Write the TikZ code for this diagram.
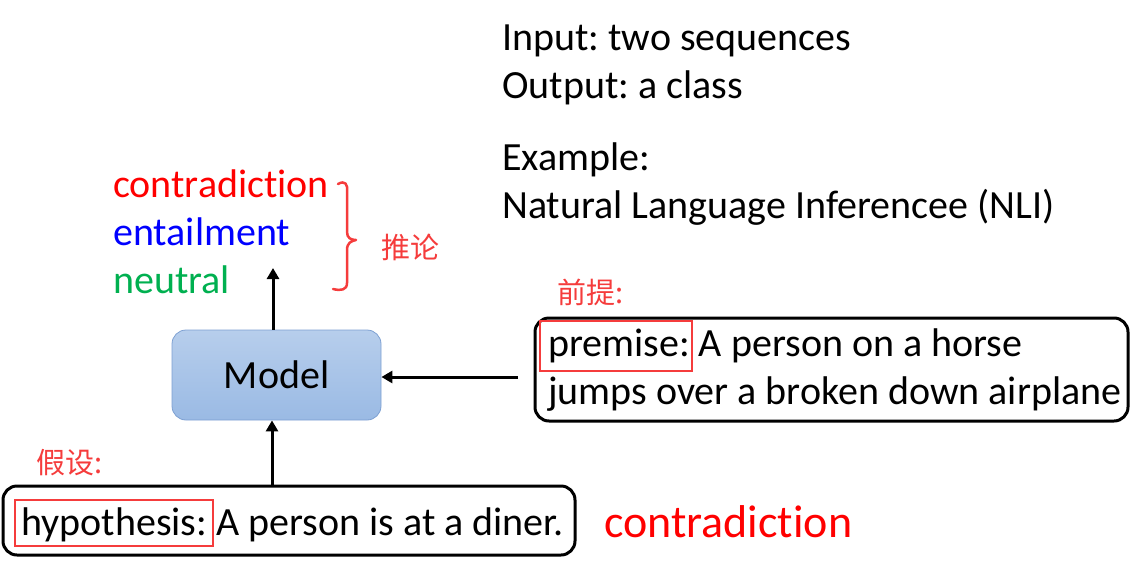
\documentclass[tikz,border=0pt]{standalone}
\usepackage{fontspec}
\setmainfont{Carlito}[RawFeature={-liga;-clig;-dlig}]
\newfontfamily\cjk{Noto Sans CJK SC}
\usetikzlibrary{arrows.meta}
\frenchspacing
\definecolor{cred}{RGB}{255,0,0}
\definecolor{cblue}{RGB}{0,0,255}
\definecolor{cgreen}{RGB}{0,176,80}
\definecolor{nred}{RGB}{245,60,60}
\definecolor{mtop}{RGB}{183,206,236}
\definecolor{mbot}{RGB}{154,186,228}
\definecolor{mdraw}{RGB}{125,160,210}
\tikzset{
  txt/.style={font=\fontsize{40}{48}\selectfont, inner sep=0pt, anchor=base west},
  note/.style={font=\cjk\fontsize{29}{34}\selectfont, text=nred, inner sep=0pt, anchor=base west},
  arr/.style={line width=3pt, -{Triangle[length=11pt,width=12pt]}},
  tbox/.style={draw=black, line width=3pt, rounded corners=14pt},
  rbox/.style={draw=nred, line width=2.2pt},
}
\begin{document}
\begin{tikzpicture}[x=1pt,y=-1pt]
\useasboundingbox (0,0) rectangle (1138,563);
% top-right text
\node[txt] (in) at (502,50) {Input: two sequences};
\node[txt] (out) at (502,98) {Output: a class};
\node[txt] (ex) at (502,170) {Example:};
\node[txt] (nli) at (502,218) {Natural Language Inferencee (NLI)};
% class labels
\node[txt, text=cred] (c1) at (113,197) {contradiction};
\node[txt, text=cblue] (c2) at (113,245) {entailment};
\node[txt, text=cgreen] (c3) at (113,293) {neutral};
% brace
\draw[nred, line width=2.5pt, line cap=round, line join=round]
  (338,184) .. controls (345,180) and (348,184) .. (347,192)
  -- (347,232) .. controls (347,238) and (351,240) .. (356,240)
  .. controls (351,241) and (347,243) .. (347,250)
  -- (347,283) .. controls (347,290) and (341,291) .. (333,289);
\node[note] (tl) at (381,258) {推论};
% model
\node[draw=mdraw, line width=0.8pt, rounded corners=14pt, top color=mtop, bottom color=mbot,
      minimum width=209pt, minimum height=90pt, inner sep=0pt,
      font=\fontsize{40}{48}\selectfont] (model) at (276.5,375) {Model};
\coordinate (outtip) at (273,268);
\draw[arr] (model.north -| outtip) -- (outtip);
% premise
\node[tbox, minimum width=593pt, minimum height=103pt, inner sep=0pt] (pbox) at (831.5,369.5) {};
\node[txt] (p1) at (548,356) {premise: A person on a horse};
\node[txt] (p2) at (548,404) {jumps over a broken down airplane};
\node[rbox, minimum width=152pt, minimum height=50pt, inner sep=0pt] (pr) at (616,346) {};
\node[note] (pn) at (557,303) {前提:};
\coordinate (pstart) at (518,377);
\draw[arr] (pstart) -- (model.east |- pstart);
% hypothesis
\node[tbox, minimum width=572pt, minimum height=69pt, inner sep=0pt] (hbox) at (289,520.5) {};
\node[txt] (h1) at (21,535) {hypothesis: A person is at a diner.};
\node[rbox, minimum width=198pt, minimum height=46pt, inner sep=0pt] (hr) at (114,523) {};
\node[note] (hn) at (36,473) {假设:};
\draw[arr] (hbox.north -| 272,0) -- (model.south -| 272,0);
% answer
\node[txt, text=cred, font=\fontsize{46}{55}\selectfont] (ans) at (604,537) {contradiction};
\end{tikzpicture}
\end{document}
